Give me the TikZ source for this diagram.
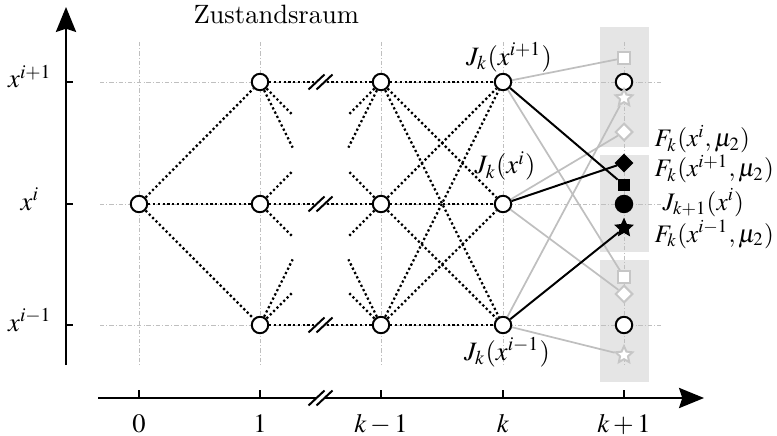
\documentclass[tikz,border=0pt]{standalone}
\usepackage{mathptmx}
\usetikzlibrary{shapes.geometric,arrows.meta,calc}
\pgfdeclarelayer{bgg}\pgfdeclarelayer{bg}\pgfsetlayers{bgg,bg,main}
\begin{document}
\begin{tikzpicture}[x=0.377pt,y=-0.377pt,
  snode/.style={circle,draw,line width=0.75pt,fill=white,minimum size=6.2pt,inner sep=0pt},
  bnode/.style={circle,draw,line width=0.75pt,fill=black,minimum size=6.2pt,inner sep=0pt},
  dotline/.style={line width=0.85pt,dash pattern=on 0.85pt off 0.95pt},
  gridline/.style={gray!50,line width=0.3pt,dash pattern=on 1.6pt off 0.8pt on 0.3pt off 0.8pt},
  axisline/.style={line width=0.8pt},
  axarrow/.style={-{Stealth[length=9.4pt,width=7.6pt,inset=1.2pt]}},
  graysym/.style={draw=gray!45,fill=white,line width=0.75pt,inner sep=0pt},
  blacksym/.style={draw=black,fill=black,line width=0.5pt,inner sep=0pt},
  sqsym/.style={rectangle,minimum size=4.3pt},
  dmsym/.style={diamond,minimum size=6.6pt},
  stsym/.style={star,star points=5,star point ratio=2.1,minimum size=6.6pt},
  grayedge/.style={gray!50,line width=0.65pt},
  blackedge/.style={black,line width=0.75pt},
  boxfill/.style={fill=gray!20},
  flabel/.style={anchor=base west,inner sep=0pt,scale=0.95},
  brk/.pic={
    \fill[white] (-12,7.5) -- (4,-7.5) -- (12,-7.5) -- (-4,7.5) -- cycle;
    \draw[line width=0.75pt] (-12,7.5) -- (4,-7.5);
    \draw[line width=0.75pt] (-4,7.5) -- (12,-7.5);
  }
]
\useasboundingbox (0,0) rectangle (777,435);

% ---------- state nodes
\node[snode] (am) at (139,204) {};
\foreach \c/\xx in {b/260,c/381,d/503}{
  \node[snode] (\c t) at (\xx,82) {};
  \node[snode] (\c m) at (\xx,204) {};
  \node[snode] (\c u) at (\xx,325) {};
}
\node[snode] (et) at (624,82) {};
\node[snode] (eu) at (624,325) {};

% ---------- symbols in column k+1
\node[graysym,sqsym] (s1) at (624,58) {};
\node[graysym,stsym] (s2) at (624,98) {};
\node[graysym,dmsym] (s3) at (624,132) {};
\node[blacksym,dmsym] (s4) at (624,163) {};
\node[blacksym,sqsym] (s5) at (624,185) {};
\node[bnode] (em) at (624,204) {};
\node[blacksym,stsym] (s6) at (624,228) {};
\node[graysym,sqsym] (s7) at (624,277) {};
\node[graysym,dmsym] (s8) at (624,294) {};
\node[graysym,stsym] (s9) at (624,355) {};

% ---------- background: boxes and grid
\begin{pgfonlayer}{bgg}
  \fill[boxfill] (600,27) rectangle (649,147);
  \fill[boxfill] (600,155) rectangle (649,252);
  \fill[boxfill] (600,260) rectangle (649,382);
  \foreach \yy in {82,204,325}{\draw[gridline] (100,\yy) -- (663,\yy);}
  \foreach \xx in {139,260,381,503,624}{\draw[gridline] (\xx,42) -- (\xx,365);}
\end{pgfonlayer}

% ---------- edges
\begin{pgfonlayer}{bg}
  \foreach \r in {t,m,u}{\draw[dotline] (am) -- (b\r);}
  \foreach \r in {t,m,u}{\draw[dotline] (b\r) -- (c\r);}
  \foreach \f/\g in {t/m,t/u,m/t,m/u,u/t,u/m}{
    \draw[dotline] (b\f) -- ($(b\f.center)!0.27!(c\g.center)$);
    \draw[dotline] (c\f) -- ($(c\f.center)!0.27!(b\g.center)$);
  }
  \foreach \f in {t,m,u}{\foreach \g in {t,m,u}{\draw[dotline] (c\f) -- (d\g);}}
  \draw[grayedge] (dt) -- (s1);
  \draw[grayedge] (dt) -- (s7);
  \draw[grayedge] (dm) -- (s3);
  \draw[grayedge] (dm) -- (s8);
  \draw[grayedge] (du) -- (s2);
  \draw[grayedge] (du) -- (s9);
  \draw[blackedge] (dt) -- (s5);
  \draw[blackedge] (dm) -- (s4);
  \draw[blackedge] (du) -- (s6);
\end{pgfonlayer}

% ---------- break marks
\foreach \yy in {82,204,325}{\pic at (320.5,\yy) {brk};}

% ---------- axes
\draw[axisline,axarrow] (66,365) -- (66,7);
\foreach \yy in {82,204,325}{\draw[axisline] (66,\yy) -- (73,\yy);}
\draw[axisline,axarrow] (98,398) -- (704,398);
\foreach \xx in {139,260,381,503,624}{\draw[axisline] (\xx,398) -- (\xx,390);}
\pic at (320.5,398) {brk};

% ---------- labels
\node[anchor=base] (lt) at (30,88) {$x^{i+1}$};
\node[anchor=base] (lm) at (30,210) {$x^{i}$};
\node[anchor=base] (lu) at (30,331) {$x^{i-1}$};
\node[anchor=base] (x0) at (139,432) {$0$};
\node[anchor=base] (x1) at (260,432) {$1$};
\node[anchor=base] (x2) at (381,432) {$k-1$};
\node[anchor=base] (x3) at (503,432) {$k$};
\node[anchor=base] (x4) at (624,432) {$k+1$};
\node[anchor=base west,inner sep=0pt] (zr) at (193,24) {Zustandsraum};
\node (jt) at (509,57) {$J_k(x^{i+1})$};
\node (jm) at (505,166) {$J_k(x^{i})$};
\node (ju) at (507,352) {$J_k(x^{i-1})$};
\node[flabel] (f1) at (654,147) {$F_k(x^{i},\mu_2)$};
\node[flabel] (f2) at (654,177) {$F_k(x^{i+1},\mu_2)$};
\node[flabel] (f3) at (662,210) {$J_{k+1}(x^{i})$};
\node[flabel] (f4) at (654,242) {$F_k(x^{i-1},\mu_2)$};
\end{tikzpicture}
\end{document}
